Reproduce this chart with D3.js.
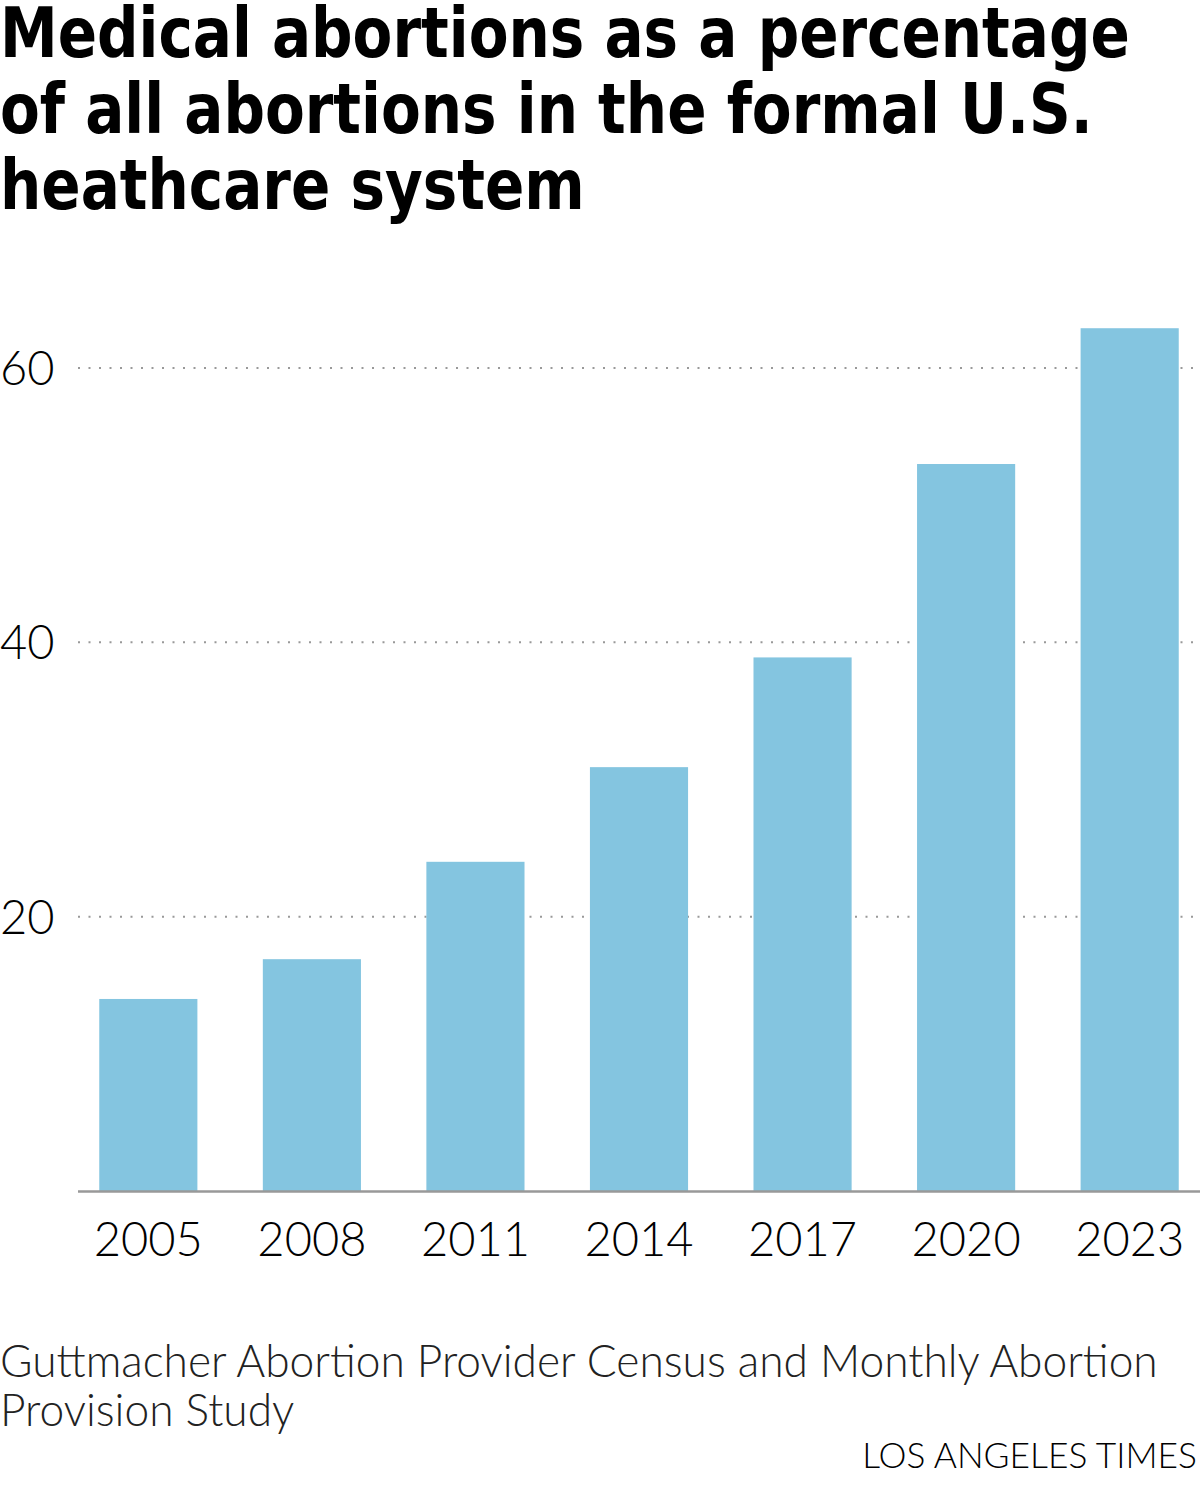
<!DOCTYPE html>
<html>
<head>
<meta charset="utf-8">
<script src="https://cdn.jsdelivr.net/npm/d3@7"></script>
<style>
  html, body { margin: 0; padding: 0; background: #fff; }
  svg { display: block; }
</style>
</head>
<body>
<svg id="chart" width="1200" height="1485"></svg>
<script>
const titleLines = ["Medical abortions as a percentage", "of all abortions in the formal U.S.", "heathcare system"];
const years = ["2005", "2008", "2011", "2014", "2017", "2020", "2023"];
const values = [14, 16.9, 24, 30.9, 38.9, 53, 62.9];
const yTicks = [20, 40, 60];
const sourceLines = ["Guttmacher Abortion Provider Census and Monthly Abortion", "Provision Study"];
const credit = "LOS ANGELES TIMES";

const svg = d3.select("#chart");

// Title (condensed look: horizontally compress a bold sans)
const titleFont = "'Liberation Sans Narrow', 'DejaVu Sans Condensed', 'DejaVu Sans', sans-serif";
const title = svg.append("g");
const tl = title.selectAll("text").data(titleLines).join("text")
  .attr("x", 0)
  .attr("y", (d, i) => 57 + i * 76)
  .attr("font-family", titleFont)
  .attr("font-weight", 700)
  .attr("font-size", 70)
  .attr("fill", "#000")
  .text(d => d);
const w0 = tl.nodes()[0].getComputedTextLength();
const sx = 1130 / w0;
title.attr("transform", `scale(${sx},1)`);

// Scales
const x = d3.scaleBand().domain(years).range([78, 1200]).paddingInner(0.4).paddingOuter(0.13);
const y = d3.scaleLinear().domain([0, 60]).range([1191, 368]);

const tickFont = "Lato, 'Open Sans', sans-serif";

// gridlines
svg.append("g").selectAll("line").data(yTicks).join("line")
  .attr("x1", 78).attr("x2", 1200)
  .attr("y1", d => y(d)).attr("y2", d => y(d))
  .attr("stroke", "#999")
  .attr("stroke-width", 2)
  .attr("stroke-dasharray", "2,8.5");

// y labels
svg.append("g").selectAll("text").data(yTicks).join("text")
  .attr("x", 0)
  .attr("y", d => y(d))
  .attr("dy", "0.36em")
  .attr("font-family", tickFont)
  .attr("font-weight", 300)
  .attr("font-size", 47)
  .attr("fill", "#000")
  .text(d => d);

// bars
svg.append("g").selectAll("rect").data(years).join("rect")
  .attr("x", d => x(d))
  .attr("width", x.bandwidth())
  .attr("y", (d, i) => y(values[i]))
  .attr("height", (d, i) => y(0) - y(values[i]))
  .attr("fill", "#84c5e0");

// baseline axis
const xAxis = d3.axisBottom(x).tickSize(0).tickPadding(0);
const ax = svg.append("g").attr("transform", `translate(0,${y(0)})`).call(xAxis);
ax.select(".domain").attr("stroke", "#999").attr("stroke-width", 2.5).attr("d", "M78,0.5H1200");
ax.selectAll(".tick text")
  .attr("y", 65)
  .attr("dy", 0)
  .attr("font-family", tickFont)
  .attr("font-weight", 300)
  .attr("font-size", 47)
  .attr("fill", "#000");

// source
const src = svg.append("g").selectAll("text").data(sourceLines).join("text")
  .attr("x", 0)
  .attr("y", (d, i) => 1377 + i * 49)
  .attr("font-family", tickFont)
  .attr("font-weight", 300)
  .attr("font-size", 38)
  .attr("fill", "#222")
  .text(d => d);
const sw = src.nodes()[0].getComputedTextLength();
src.attr("font-size", 38 * 1158 / sw);

// credit
const cr = svg.append("text")
  .attr("x", 1197)
  .attr("y", 1468)
  .attr("text-anchor", "end")
  .attr("font-family", tickFont)
  .attr("font-weight", 300)
  .attr("font-size", 32)
  .attr("fill", "#000")
  .text(credit);
const cw = cr.node().getComputedTextLength();
cr.attr("font-size", 32 * 335 / cw);
</script>
</body>
</html>
